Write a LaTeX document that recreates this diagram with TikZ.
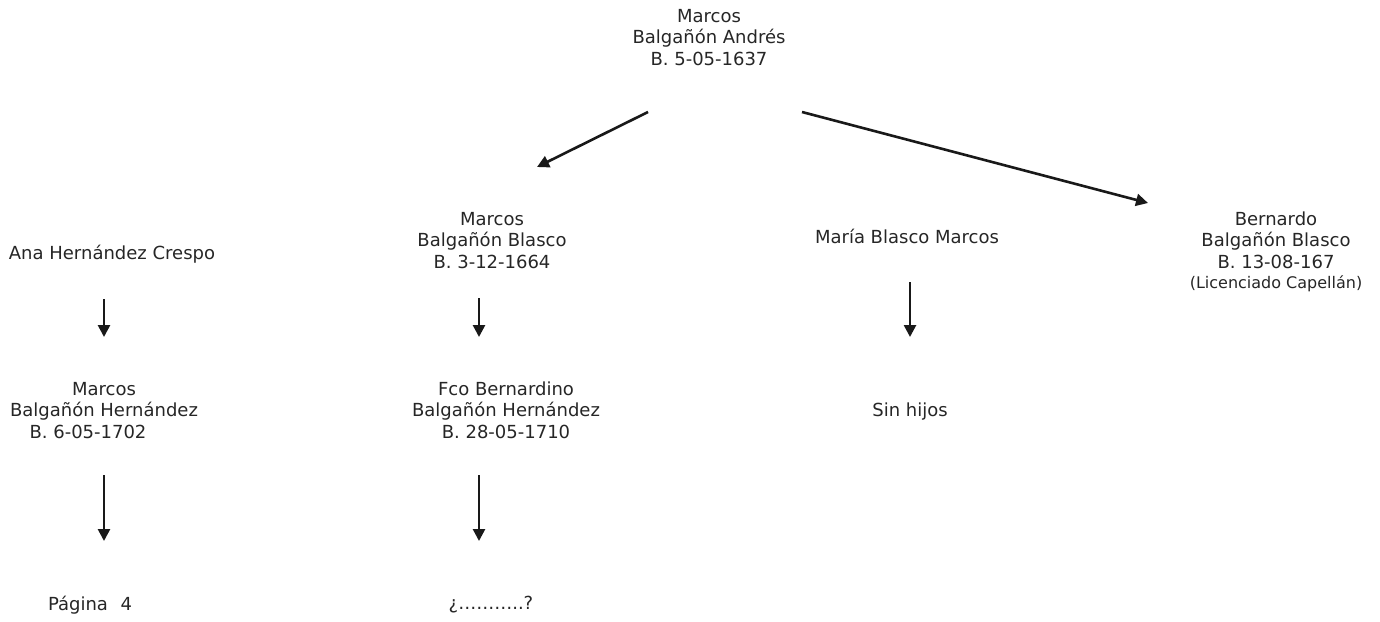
\documentclass[tikz,border=0pt]{standalone}
\usepackage{fontspec}
\setmainfont{DejaVu Sans}
\usetikzlibrary{arrows.meta}
\begin{document}
\begin{tikzpicture}[x=1pt,y=-1pt,
  person/.style={align=center, inner sep=0pt, anchor=base, font=\fontsize{18}{21.5}\selectfont, text=black!85},
  arr/.style={-{Triangle[length=12pt,width=12pt]}, line width=2.6pt, black!90}]
\useasboundingbox (0,0) rectangle (1380,621);
% people (anchor = baseline of the last line)
\node[person] (marcos0) at (709,65) {Marcos\\Balgañón Andrés\\B. 5-05-1637};
\node[person] (ana) at (112,259) {Ana Hernández Crespo};
\node[person] (marcos1) at (492,268) {Marcos\\Balgañón Blasco\\B. 3-12-1664};
\node[person] (maria) at (907,243) {María Blasco Marcos};
\node[person] (bernardo) at (1276,288) {Bernardo\\Balgañón Blasco\\B. 13-08-167\\[-1.5pt]{\fontsize{16}{20}\selectfont (Licenciado Capellán)}};
\node[person] (marcos2) at (104,438) {Marcos\\Balgañón Hernández\\B. 6-05-1702\hspace*{32pt}};
\node[person] (fco) at (506,438) {Fco Bernardino\\Balgañón Hernández\\B. 28-05-1710};
\node[person] (sin) at (910,416) {Sin hijos};
\node[person] (pagina) at (90,610) {Página\hspace{0.7em}4};
\node[person] (q) at (491,609) {¿………..?};
% arrow ends
\coordinate (a1s) at (648,112); \coordinate (a1e) at (537,167);
\coordinate (a2s) at (802,112); \coordinate (a2e) at (1148,203);
\coordinate (a3s) at (104,299); \coordinate (a3e) at (104,337);
\coordinate (a4s) at (479,298); \coordinate (a4e) at (479,337);
\coordinate (a5s) at (910,282); \coordinate (a5e) at (910,337);
\coordinate (a6s) at (104,475); \coordinate (a6e) at (104,541);
\coordinate (a7s) at (479,475); \coordinate (a7e) at (479,541);
\draw[arr] (a1s) -- (a1e);
\draw[arr] (a2s) -- (a2e);
\draw[arr] (a3s) -- (a3e);
\draw[arr] (a4s) -- (a4e);
\draw[arr] (a5s) -- (a5e);
\draw[arr] (a6s) -- (a6e);
\draw[arr] (a7s) -- (a7e);
\end{tikzpicture}
\end{document}
